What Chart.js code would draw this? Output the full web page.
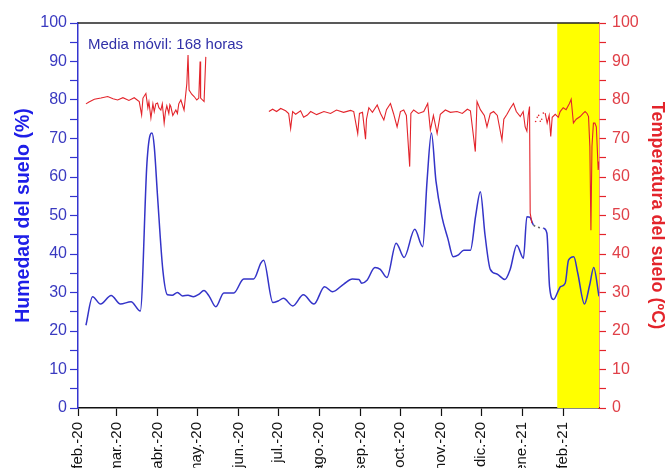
<!DOCTYPE html>
<html>
<head>
<meta charset="utf-8">
<script src="https://cdn.jsdelivr.net/npm/chart.js@4/dist/chart.umd.min.js"></script>
<style>
  body { margin: 0; background: #fff; }
</style>
</head>
<body>
<canvas id="suelo" width="669" height="468"></canvas>
<script>
// x = dias desde el 1 de febrero de 2020
const monthDays = [0, 29, 60, 90, 121, 151, 182, 213, 243, 274, 304, 335, 366];
const monthLabels = ['feb.-20', 'mar.-20', 'abr.-20', 'may.-20', 'jun.-20', 'jul.-20', 'ago.-20',
                     'sep.-20', 'oct.-20', 'nov.-20', 'dic.-20', 'ene.-21', 'feb.-21'];
const lastDay = 393;
const yellowFrom = 361.5;
const dashFrom = 343.6, dashTo = 351;

// humedad, media movil 168 h
const humDays = [6, 11, 17, 25, 32, 40, 47, 52, 54.5, 55.8, 57.5, 60, 64, 67.5, 71, 75, 79, 83, 87, 91,
  95, 99, 104, 110, 117.5, 125, 132.5, 138, 140, 147, 151, 155, 162, 170, 178, 186, 192, 200.5, 207, 212,
  214, 218, 224, 228, 233, 240, 246, 254, 260, 263.3, 266.6, 270, 274.5, 279, 283, 287, 291, 296, 300, 303.5,
  307, 311, 316, 322, 326, 331, 336, 338.6, 341, 343.6, 351, 353.7, 355.7, 358.7, 362.5, 364, 367.5, 370, 374, 377,
  382, 386, 389, 393];
const humValues = [21.5, 28.9, 27, 29.2, 27, 27.6, 25.2, 63.6, 71, 71.4, 68, 55, 35.8, 29.4, 29.3, 30, 29.1, 29.3, 28.9, 29.5,
  30.5, 29, 26.3, 29.9, 29.9, 33.5, 33.5, 37.7, 38.4, 27.4, 27.8, 28.5, 26.5, 29.4, 27, 31.5, 30.2, 32.2, 33.5, 33.4,
  32.4, 33.2, 36.5, 36, 33.9, 42.8, 39.1, 46.4, 41.9, 59, 71.4, 59, 49.7, 44, 39.3, 39.8, 41, 41, 50, 56.2,
  45, 36, 34.8, 33.4, 36, 42.3, 38.9, 49.7, 49.5, 47.5, 46.7, 45.4, 31.5, 28.2, 30.6, 31.5, 32.4, 38.4, 39.3, 35,
  27, 32, 36.5, 29];

// temperatura (null = sin datos)
const tempDays = [6, 8.3, 12.3, 17.3, 22.4, 26.4, 29.9, 33.9, 38.4, 42.4, 46.2, 48, 49, 51.2, 52.7, 53.5, 55, 56.5, 57.5, 58.7,
  60, 61, 62.5, 63.6, 65, 66, 67, 68.5, 69.3, 70, 71.5, 73.8, 75, 76, 77.6, 80, 82.1, 83, 83.8, 85.8,
  87.6, 89.6, 91.1, 92.1, 92.5, 95.1, 96.4,
  120,
  144, 146.8, 149.8, 152.9, 156.6, 158.9, 160.4, 161.9, 164.2, 167.9, 170.2, 173, 175.5, 180, 185.5, 190.5, 195, 200.3, 205.6, 208,
  211, 212.3, 214.6, 216.9, 217.6, 219.4, 222.1, 225.7, 228.2, 230.7, 232.7, 235.7, 238, 240.7, 243.2, 245.7, 247.7, 250.2, 251.1, 253.2,
  256.8, 260.8, 263.8, 265.8, 268.1, 270.9, 273.3, 277.1, 280.9, 285.9, 289.9, 293.7, 296, 299.7, 301, 303.5, 306.5, 308.5, 311, 313.5,
  316.3, 319.8, 321.2, 323.6, 326, 328.5, 330.6, 333.6, 335.8, 337.3, 338.6, 339.6, 340.6, 341.1, 342.4,
  347,
  352.4, 353.9, 355.4, 356.6, 357.7, 360, 362.3, 363.7, 366, 368.2, 370.7, 372, 373.7, 375.8, 378.8, 381, 382.5, 384, 385.1, 386.1,
  386.9, 387.7, 388.8, 389.9, 391, 392.4, 393];
const tempValues = [79, 79.5, 80.2, 80.5, 80.9, 80.3, 80, 80.6, 79.9, 80.6, 79.6, 76.1, 80.5, 81.7, 78, 79.5, 75.3, 79, 77, 79,
  79.2, 78, 77.4, 79, 74, 77, 78.5, 76.5, 78.8, 78.3, 76, 77.4, 76.5, 79, 80, 77.4, 84.3, 91.7, 82.6, 81.5,
  80.9, 80, 80.5, 90, 80.5, 79.6, 91.2,
  null,
  77, 77.6, 77, 77.8, 77.2, 76.5, 72.6, 77, 76.3, 77.2, 75.5, 76.1, 77, 76.2, 77, 76.5, 77.4, 76.8, 77.3, 77,
  71.3, 76.5, 76.8, 69.8, 75, 78, 76.8, 78.7, 76.5, 74.8, 77.5, 79.1, 76.5, 73, 77, 77.4, 76, 62.7, 76.5, 77.4,
  76.5, 77, 79.1, 72.2, 76, 71.3, 76.3, 77.4, 76.8, 77, 76.5, 77.6, 77.2, 66.6, 79.6, 77.5, 76, 73, 76.5, 77,
  76, 69.6, 75, 76.3, 77.8, 79.1, 77, 75.7, 77, 73, 71.9, 76, 78.3, 50.6, 48,
  null,
  76.6, 74, 76, 70.5, 75.5, 76.3, 75.5, 77, 78, 77.5, 79.1, 80.2, 74, 75, 75.7, 76.5, 77, 76.5, 75.7, 67.9,
  46.2, 68, 74, 74, 73, 61.8, 64];

// lecturas sueltas en el hueco de enero
const dotDays = [345.2, 346.4, 347.5, 348.7, 349.8, 351];
const dotValues = [74.4, 75.5, 76, 74.5, 75, 76.6];

const pairs = (xs, ys) => xs.map((x, i) => ({ x: x, y: ys[i] }));

Chart.defaults.font.family = '"Liberation Sans", Arial, sans-serif';

const decor = {
  id: 'decor',
  beforeDatasetsDraw(chart) {
    const { ctx, chartArea: a, scales } = chart;
    const x0 = scales.x.getPixelForValue(yellowFrom);
    ctx.save();
    ctx.fillStyle = '#ffff00';
    ctx.fillRect(x0, a.top, a.right - x0, a.bottom - a.top);
    ctx.restore();
  },
  afterDraw(chart) {
    const { ctx, chartArea: a } = chart;
    ctx.save();
    ctx.strokeStyle = '#222';
    ctx.lineWidth = 1.5;
    ctx.beginPath();
    ctx.moveTo(a.left, a.top);
    ctx.lineTo(a.right, a.top);
    ctx.stroke();
    ctx.fillStyle = '#3030a8';
    ctx.font = '15px "Liberation Sans", Arial, sans-serif';
    ctx.textBaseline = 'middle';
    ctx.fillText('Media móvil: 168 horas', a.left + 10, a.top + 22);
    ctx.restore();
  }
};

new Chart(document.getElementById('suelo'), {
  type: 'line',
  data: {
    datasets: [
      {
        label: 'Temperatura',
        data: pairs(tempDays, tempValues),
        yAxisID: 'yR',
        borderColor: '#e3242b',
        borderWidth: 1.1,
        pointRadius: 0,
        tension: 0,
        spanGaps: false,
        order: 0
      },
      {
        label: 'Temperatura puntos',
        data: pairs(dotDays, dotValues),
        yAxisID: 'yR',
        showLine: false,
        pointRadius: 0.8,
        pointBorderWidth: 0,
        backgroundColor: '#e3242b',
        order: 0
      },
      {
        label: 'Humedad',
        data: pairs(humDays, humValues),
        yAxisID: 'yL',
        borderColor: '#3434c8',
        borderWidth: 1.5,
        pointRadius: 0,
        cubicInterpolationMode: 'monotone',
        segment: {
          borderDash: c => (c.p0.parsed.x >= dashFrom && c.p1.parsed.x <= dashTo) ? [2, 3] : undefined,
          borderColor: c => (c.p0.parsed.x >= dashFrom && c.p1.parsed.x <= dashTo) ? '#666' : undefined
        },
        order: 1
      }
    ]
  },
  options: {
    responsive: false,
    animation: false,
    layout: { padding: { top: 23 } },
    plugins: { legend: { display: false }, tooltip: { enabled: false } },
    scales: {
      x: {
        type: 'linear',
        min: 0,
        max: lastDay,
        afterBuildTicks: s => { s.ticks = monthDays.map(v => ({ value: v })); },
        afterFit: s => { s.height = 60; },
        ticks: {
          callback: (v, i) => monthLabels[i],
          autoSkip: false,
          maxRotation: 90,
          minRotation: 90,
          color: '#111',
          font: { size: 15 },
          padding: 6
        },
        grid: { drawOnChartArea: false, tickLength: 8, color: '#111', tickWidth: 1.2 },
        border: { color: '#111', width: 1.5 }
      },
      yL: {
        position: 'left',
        min: 0,
        max: 100,
        afterFit: s => { s.width = 78; },
        ticks: {
          stepSize: 5,
          autoSkip: false,
          callback: v => (v % 10 === 0 ? v : ''),
          color: '#3a3ac0',
          font: { size: 16 },
          padding: 3
        },
        grid: { drawOnChartArea: false, tickLength: 8, color: '#3434d0', tickWidth: 1.2 },
        border: { color: '#3434d0', width: 1.5 },
        title: {
          display: true,
          text: 'Humedad del suelo (%)',
          color: '#1e1ee8',
          font: { size: 19.5, weight: 'bold' },
          padding: { top: 12, bottom: 0 }
        }
      },
      yR: {
        position: 'right',
        min: 0,
        max: 100,
        afterFit: s => { s.width = 70; },
        ticks: {
          stepSize: 5,
          autoSkip: false,
          callback: v => (v % 10 === 0 ? v : ''),
          color: '#e04048',
          font: { size: 16 },
          padding: 6
        },
        grid: { drawOnChartArea: false, tickLength: 7, color: '#e3242b', tickWidth: 1.2 },
        border: { color: '#e3242b', width: 1.5 },
        title: {
          display: true,
          text: 'Temperatura del suelo (ºC)',
          color: '#e3242b',
          font: { size: 18, weight: 'bold' },
          padding: { top: 1, bottom: 0 }
        }
      }
    }
  },
  plugins: [decor]
});
</script>
</body>
</html>
